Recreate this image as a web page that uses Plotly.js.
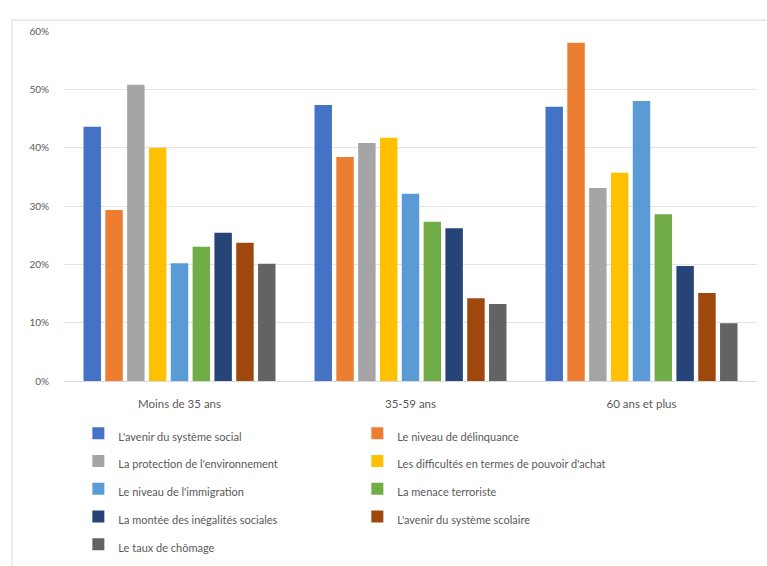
<!DOCTYPE html>
<html><head><meta charset="utf-8">
<script src="https://cdn.plot.ly/plotly-3.0.1.min.js"></script>
<style>html,body{margin:0;padding:0;background:#fff}#chart{width:767px;height:566px}</style>
</head><body><div id="chart"></div>
<script>
const categories = ["Moins de 35 ans", "35-59 ans", "60 ans et plus"];
const seriesNames = [
  "L'avenir du système social",
  "Le niveau de délinquance",
  "La protection de l'environnement",
  "Les difficultés en termes de pouvoir d'achat",
  "Le niveau de l'immigration",
  "La menace terroriste",
  "La montée des inégalités sociales",
  "L'avenir du système scolaire",
  "Le taux de chômage"
];
const avenirSocial   = [0.436, 0.473, 0.470];
const delinquance    = [0.293, 0.384, 0.580];
const environnement  = [0.508, 0.408, 0.331];
const pouvoirAchat   = [0.400, 0.417, 0.357];
const immigration    = [0.202, 0.321, 0.480];
const terrorisme     = [0.230, 0.273, 0.286];
const inegalites     = [0.254, 0.262, 0.197];
const scolaire       = [0.237, 0.142, 0.151];
const chomage        = [0.201, 0.132, 0.099];
const seriesValues = [avenirSocial, delinquance, environnement, pouvoirAchat, immigration, terrorisme, inegalites, scolaire, chomage];
const colors = ["#4472C4","#ED7D31","#A5A5A5","#FFC000","#5B9BD5","#70AD47","#264478","#9E480E","#636363"];
const yTicks = [0,0.1,0.2,0.3,0.4,0.5,0.6];
const yTickLabels = ["0%","10%","20%","30%","40%","50%","60%"];

const traces = seriesNames.map((n,i)=>({
  type:'bar', name:'<span style="font-size:11px">'+n+'</span>', x:categories, y:seriesValues[i],
  marker:{color:colors[i]}
}));

const layout = {
  width:767, height:566,
  margin:{l:64, r:10, t:31, b:185},
  paper_bgcolor:'#fff', plot_bgcolor:'#fff',
  font:{family:'Lato, "Open Sans", sans-serif', color:'#595959', size:11},
  barmode:'group', bargap:0.15, bargroupgap:0.2,
  showlegend:true,
  xaxis:{showgrid:false, showline:true, linecolor:'#d9d9d9', ticks:'', tickfont:{size:11.5, color:'#595959'}, ticklabelstandoff:12},
  yaxis:{range:[0,0.6], tickvals:yTicks, ticktext:yTickLabels, showgrid:true, gridcolor:'#e3e3e3', gridwidth:1,
         zeroline:false, showline:false, tickfont:{size:10, color:'#595959'}, ticklabelstandoff:14},
  legend:{orientation:'h', xref:'paper', yref:'container', x:0.0207, xanchor:'left', y:0.2677, yanchor:'top',
          entrywidth:234, entrywidthmode:'pixels',
          font:{size:19, color:'#595959'}, itemwidth:30, traceorder:'normal'},
  shapes:[
    {type:'line', xref:'paper', yref:'paper', x0:-0.075, x1:-0.075, y0:1.031, y1:-0.6, line:{color:'#d9d9d9', width:1}},
    {type:'line', xref:'paper', yref:'paper', x0:-0.075, x1:1.1, y0:1.031, y1:1.031, line:{color:'#d9d9d9', width:1}}
  ]
};
Plotly.newPlot('chart', traces, layout, {displayModeBar:false, staticPlot:true});
</script></body></html>
